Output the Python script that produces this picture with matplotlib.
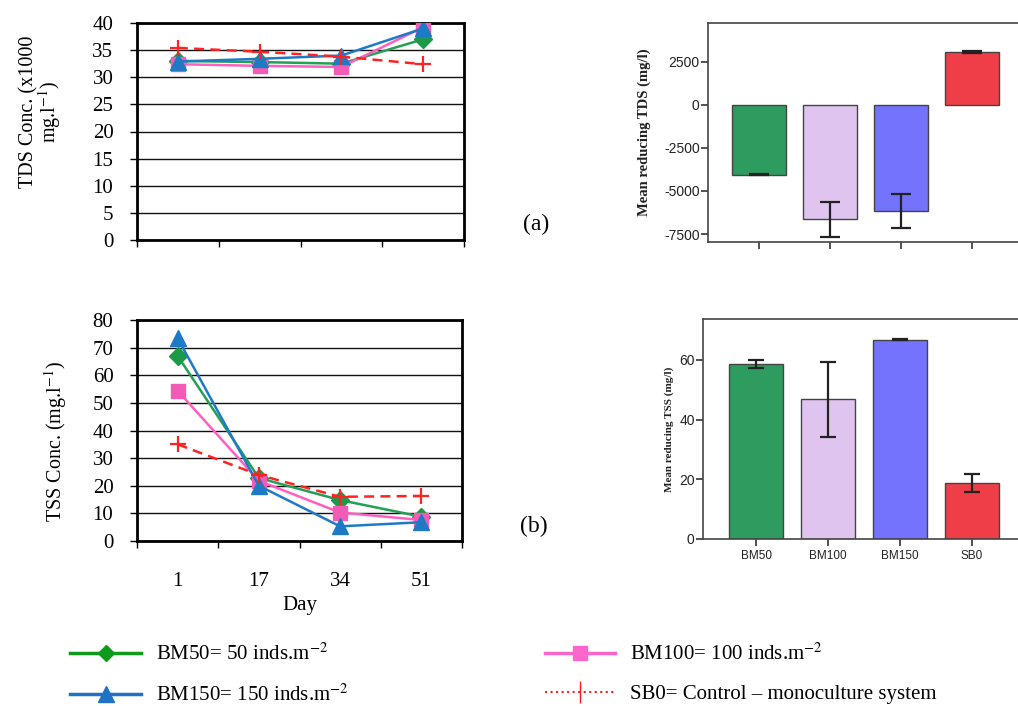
import numpy as np
import matplotlib.pyplot as plt
from matplotlib.ticker import FixedLocator, NullFormatter

plt.rcParams['font.family'] = ['Liberation Serif', 'DejaVu Serif']
plt.rcParams['mathtext.fontset'] = 'stix'
plt.rcParams['axes.unicode_minus'] = False

# ---- data ----
days = ["1", "17", "34", "51"]

tds_bm50 = [33.0, 32.8, 32.5, 37.0]
tds_bm100 = [32.4, 32.1, 31.9, 39.2]
tds_bm150 = [32.9, 33.4, 34.0, 39.0]
tds_sb0 = [35.4, 34.7, 33.8, 32.4]

tss_bm50 = [67.0, 22.8, 14.8, 8.8]
tss_bm100 = [54.4, 21.8, 10.3, 7.6]
tss_bm150 = [73.4, 20.0, 5.3, 6.8]
tss_sb0 = [35.0, 23.9, 16.0, 16.3]

treatments = ["BM50", "BM100", "BM150", "SB0"]
red_tds = [-4050, -6650, -6170, 3070]
red_tds_err = [30, 1010, 1010, 40]
red_tss = [58.7, 46.8, 66.7, 18.8]
red_tss_err = [1.4, 12.5, 0.15, 3.0]

labels = ["BM50= 50 inds.m$^{-2}$", "BM100= 100 inds.m$^{-2}$",
          "BM150= 150 inds.m$^{-2}$", "SB0= Control \u2013 monoculture system"]
bar_colors = ["#2E9B5F", "#DFC4F0", "#7373FD", "#EF3E48"]

W, H = 1018, 706
fig = plt.figure(figsize=(W / 100, H / 100), dpi=100)


def box(l, t, r, b):
    # pixel box -> figure fraction rect
    return [l / W, 1 - b / H, (r - l) / W, (b - t) / H]


styles = [
    dict(color="#22A055", marker="D", ms=9, mfc="#1C9A48", mec="#1C9A48"),
    dict(color="#FF5FC0", marker="s", ms=10, mfc="#F25CB6", mec="#F25CB6"),
    dict(color="#1F7AC6", marker="^", ms=11, mfc="#1F7AC6", mec="#1F7AC6"),
    dict(color="#FF2222", marker="+", ms=12, mew=1.6, ls=(0, (4, 2.5))),
]


def line_panel(ax, series, ymax, step, show_x):
    x = np.arange(len(days))
    for vals, st, lab in zip(series, styles, labels):
        st = dict(st)
        ls = st.pop("ls", "-")
        ax.plot(x, vals, ls=ls, lw=1.8, label=lab, zorder=3, **st)
    ax.set_xlim(-0.5, len(days) - 0.5)
    ax.set_ylim(0, ymax)
    ax.set_yticks(np.arange(0, ymax + 1, step))
    ax.yaxis.grid(True, color="#111", lw=1)
    ax.set_axisbelow(True)
    ax.xaxis.set_major_locator(FixedLocator(np.arange(-0.5, len(days), 1)))
    ax.xaxis.set_major_formatter(NullFormatter())
    ax.tick_params(axis="both", which="major", direction="out", length=5,
                   width=1, labelsize=15)
    ax.tick_params(axis="y", pad=12)
    if show_x:
        ax.xaxis.set_minor_locator(FixedLocator(x))
        ax.set_xticklabels(days, minor=True)
        ax.tick_params(axis="x", which="minor", length=0, labelsize=15, pad=22)
        ax.set_xlabel("Day", fontsize=15, labelpad=4)
    for s in ax.spines.values():
        s.set_linewidth(2)
        s.set_color("black")


# ---- (a) TDS line chart ----
ax1 = fig.add_axes(box(137, 23, 464, 240))
line_panel(ax1, [tds_bm50, tds_bm100, tds_bm150, tds_sb0], 40, 5, False)
ax1.set_ylabel("TDS Conc. (x1000\nmg.l$^{-1}$)", fontsize=14.5, linespacing=0.88)
ax1.yaxis.set_label_coords(-0.225, 0.59)

# ---- (b) TSS line chart ----
ax2 = fig.add_axes(box(137, 320, 462, 541))
line_panel(ax2, [tss_bm50, tss_bm100, tss_bm150, tss_sb0], 80, 10, True)
ax2.set_ylabel("TSS Conc. (mg.l$^{-1}$)", fontsize=14.5)
ax2.yaxis.set_label_coords(-0.21, 0.45)

fig.text(523 / W, 1 - 224 / H, "(a)", fontsize=17, va="center")
fig.text(520 / W, 1 - 526 / H, "(b)", fontsize=17, va="center")


def bar_panel(ax, vals, errs, ylim, yticks, capsize):
    x = np.arange(len(treatments))
    ax.bar(x, vals, width=0.75, color=bar_colors, edgecolor="#444", lw=1, zorder=2)
    ax.errorbar(x, vals, yerr=errs, fmt="none", ecolor="#222", elinewidth=1.6,
                capsize=capsize, capthick=1.6, zorder=3)
    ax.set_ylim(*ylim)
    ax.set_yticks(yticks)
    ax.set_xticks(x)
    for s in ax.spines.values():
        s.set_color("#444")
        s.set_linewidth(1.2)
    ax.tick_params(axis="both", direction="out", length=5, width=1.2,
                   color="#333", labelcolor="#222")
    ax.tick_params(axis="y", labelsize=10, pad=1,
                   labelfontfamily="Liberation Sans")


# ---- mean reducing TDS ----
ax3 = fig.add_axes(box(708, 23, 1040, 242))
ax3.set_xlim(-0.72, 3.96)
bar_panel(ax3, red_tds, red_tds_err, (-7964, 4745), [-7500, -5000, -2500, 0, 2500], 7.5)
ax3.set_xticklabels([])
ax3.set_ylabel("Mean reducing TDS (mg/l)", fontsize=10.5, fontweight="bold",
               color="#222")
ax3.yaxis.set_label_coords(-0.172, 0.5)

# ---- mean reducing TSS ----
ax4 = fig.add_axes(box(703, 319, 1040, 539))
ax4.set_xlim(-0.74, 3.95)
bar_panel(ax4, red_tss, red_tss_err, (0, 73.7), [0, 20, 40, 60], 6)
ax4.set_xticklabels(treatments, fontsize=8.5, fontfamily="Liberation Sans")
ax4.tick_params(axis="x", pad=3)
ax4.set_ylabel("Mean reducing TSS (mg/l)", fontsize=8, fontweight="bold",
               color="#222")
ax4.yaxis.set_label_coords(-0.086, 0.5)

# ---- legend ----
leg_styles = [
    dict(color="#0E9A1A", marker="D", ms=8, lw=2.5),
    dict(color="#FF66CC", marker="s", ms=10, lw=2.5),
    dict(color="#1F72C4", marker="^", ms=11, lw=2.5),
    dict(color="#FF1A1A", marker="|", ms=16, mew=1, lw=1.5, ls=":"),
]
leg_handles = [plt.Line2D([], [], **st) for st in leg_styles]
order = [0, 2, 1, 3]
fig.legend([leg_handles[i] for i in order], [labels[i] for i in order],
           ncol=2, loc="upper left", bbox_to_anchor=(60 / W, 1 - 633 / H),
           frameon=False, fontsize=15, handlelength=3.4, handletextpad=0.7,
           columnspacing=9.4, labelspacing=0.95, borderpad=0)

fig.savefig("out.png", dpi=100)
